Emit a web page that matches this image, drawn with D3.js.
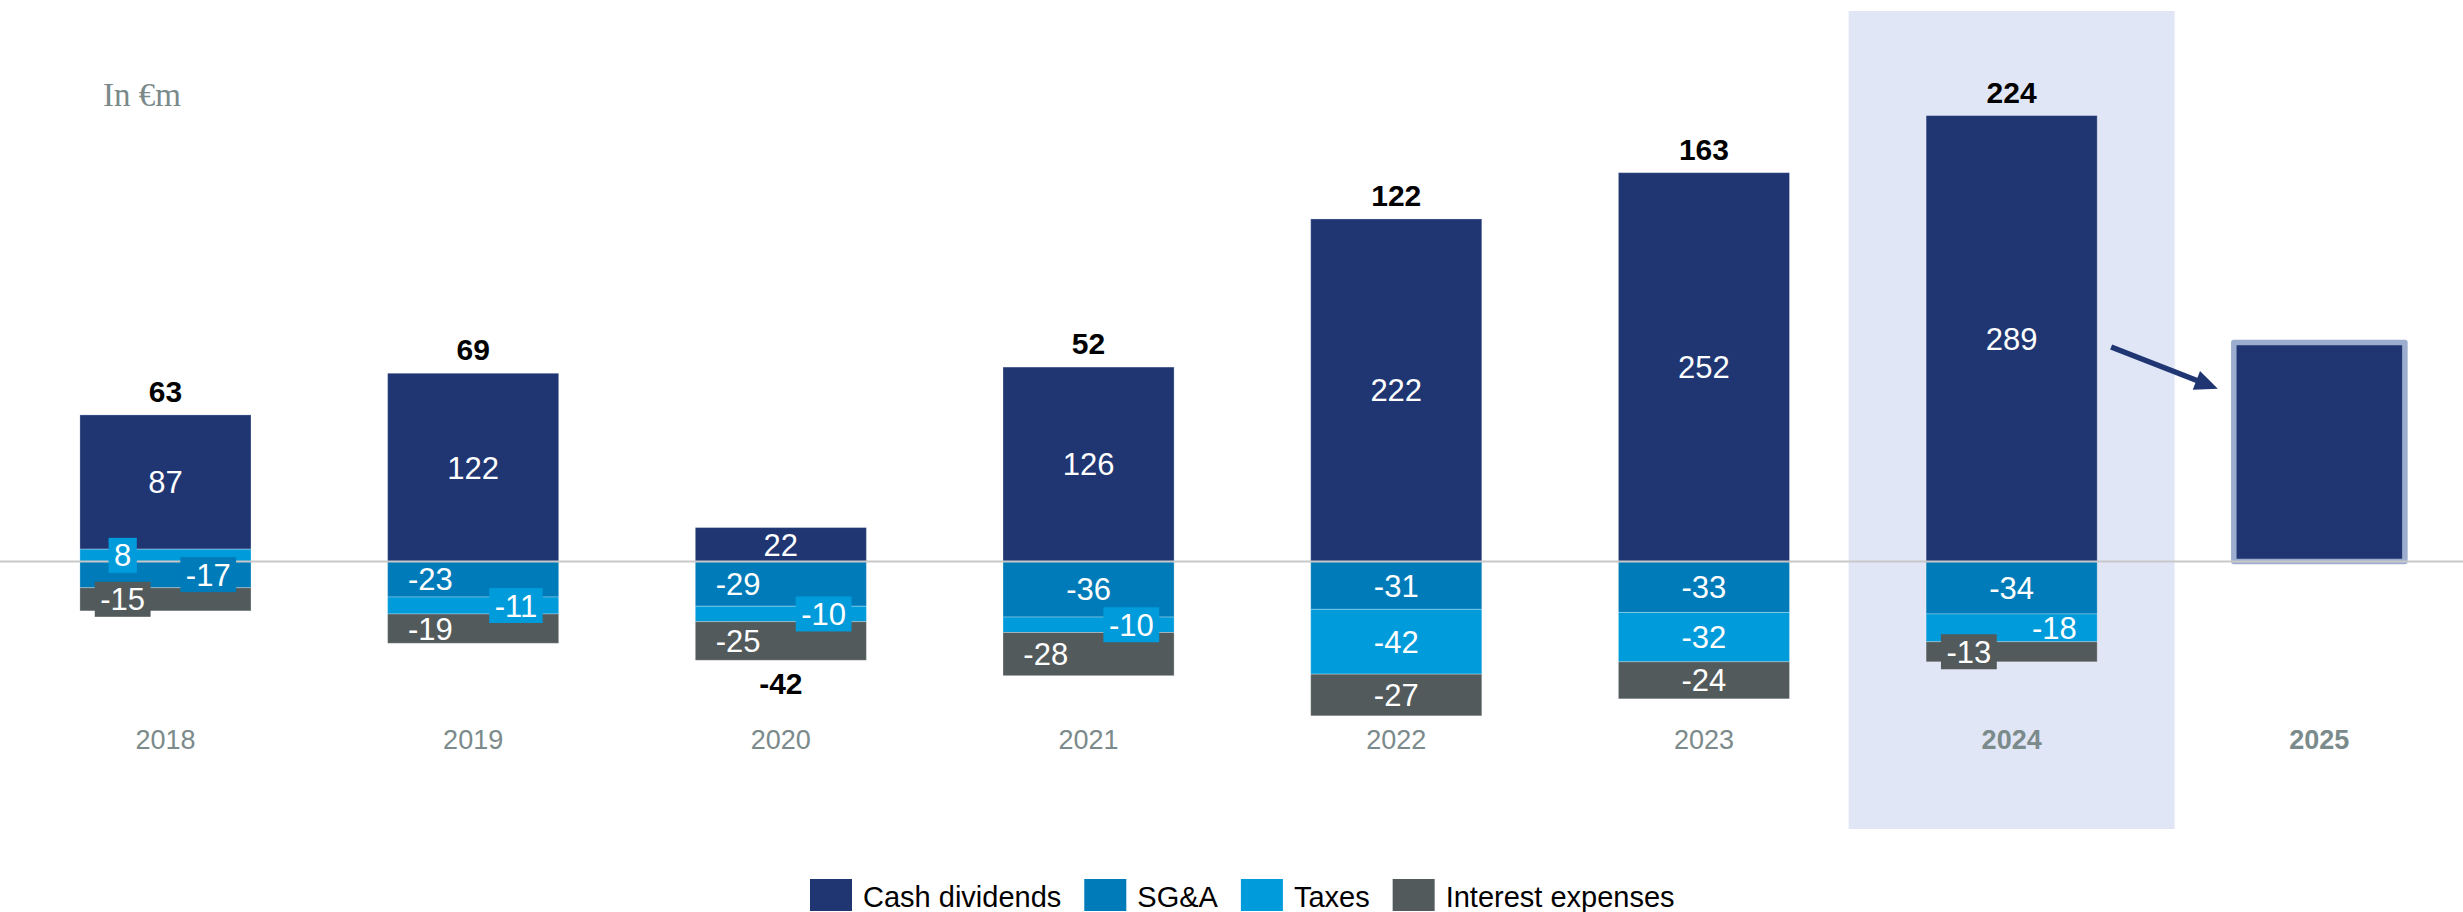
<!DOCTYPE html>
<html>
<head>
<meta charset="utf-8">
<script src="https://cdn.jsdelivr.net/npm/d3@7/dist/d3.min.js"></script>
<style>
  html, body { margin: 0; padding: 0; background: #ffffff; }
  svg { display: block; }
</style>
</head>
<body>
<svg id="chart" width="2463" height="912"></svg>
<script>
// Cash flow bridge per year, in € millions
const years = ["2018", "2019", "2020", "2021", "2022", "2023", "2024", "2025"];
const cashDividends = [87, 122, 22, 126, 222, 252, 289, 142];
const sga = [-17, -23, -29, -36, -31, -33, -34, 0];
const taxes = [8, -11, -10, -10, -42, -32, -18, 0];
const interestExpenses = [-15, -19, -25, -28, -27, -24, -13, 0];
const totals = [63, 69, -42, 52, 122, 163, 224, null];
const seriesNames = ["Cash dividends", "SG&A", "Taxes", "Interest expenses"];
const highlightYear = "2024";
const outlookYear = "2025";

const keys = ["cash", "sga", "taxes", "interest"];
const colors = { cash: "#1f3673", sga: "#007bb9", taxes: "#009bdb", interest: "#525a5b" };

// where a segment label sits inside its bar: l = left quarter, r = right quarter, default centre
const labelSide = {
  "2018": { taxes: "l", sga: "r", interest: "l" },
  "2019": { sga: "l", taxes: "r", interest: "l" },
  "2020": { sga: "l", taxes: "r", interest: "l" },
  "2021": { taxes: "r", interest: "l" },
  "2024": { taxes: "r", interest: "l" }
};

const rows = years.map((yr, i) => ({
  year: yr,
  cash: cashDividends[i],
  sga: sga[i],
  taxes: taxes[i],
  interest: interestExpenses[i],
  total: totals[i]
}));

const FONT = "'Liberation Sans', Arial, Helvetica, sans-serif";
const svg = d3.select("#chart");

const x = d3.scaleBand()
  .domain(years)
  .range([11.6, 2473.2])
  .paddingInner(0.444)
  .paddingOuter(0.222);

const y = d3.scaleLinear()
  .domain([-100, 300])
  .range([715.8, 98.6]);

const bw = x.bandwidth();

// stacking: SG&A and taxes sit next to the zero line, dividends above, interest at the bottom
const stack = d3.stack()
  .keys(keys)
  .order(() => [1, 2, 0, 3])
  .offset(d3.stackOffsetDiverging);
const stacked = stack(rows);

// highlighted year band
svg.append("rect")
  .attr("x", x(highlightYear) + bw / 2 - 163)
  .attr("y", 11)
  .attr("width", 326)
  .attr("height", 818)
  .attr("fill", "#e1e6f6");

// unit note
svg.append("text")
  .attr("x", 103)
  .attr("y", 106)
  .attr("font-family", "'Liberation Serif', 'Times New Roman', serif")
  .attr("font-size", 33)
  .attr("fill", "#7a8a8a")
  .text("In €m");

// stacked segments
const barsG = svg.append("g");
stacked.forEach(s => {
  barsG.selectAll(null)
    .data(s.filter(d => d.data.year !== outlookYear && d[1] !== d[0]))
    .join("rect")
    .attr("x", d => x(d.data.year))
    .attr("width", bw)
    .attr("y", d => y(Math.max(d[0], d[1])))
    .attr("height", d => Math.abs(y(d[0]) - y(d[1])))
    .attr("fill", colors[s.key])
    .attr("stroke", "rgba(255,255,255,0.28)")
    .attr("stroke-width", 1);
});

// outlook bar with its frame
const outlookRow = rows.find(r => r.year === outlookYear);
svg.append("rect")
  .attr("x", x(outlookYear))
  .attr("width", bw)
  .attr("y", y(outlookRow.cash))
  .attr("height", y(0) - y(outlookRow.cash))
  .attr("fill", colors.cash)
  .attr("stroke", "#9cadcf")
  .attr("stroke-width", 5.5)
  .attr("stroke-linejoin", "round");

// zero line
svg.append("line")
  .attr("x1", 0).attr("x2", 2463)
  .attr("y1", y(0)).attr("y2", y(0))
  .attr("stroke", "#c8c8c8")
  .attr("stroke-width", 2.2);

// arrow from the highlighted year to the outlook bar
(function drawArrow() {
  const x0 = x(highlightYear) + bw + 14, y0 = y(139);
  const x1 = x(outlookYear) - 16, y1 = y(112);
  const ang = Math.atan2(y1 - y0, x1 - x0);
  const headLen = 23, headHalf = 10;
  const bx = x1 - headLen * Math.cos(ang), by = y1 - headLen * Math.sin(ang);
  svg.append("line")
    .attr("x1", x0).attr("y1", y0)
    .attr("x2", bx + 2 * Math.cos(ang)).attr("y2", by + 2 * Math.sin(ang))
    .attr("stroke", colors.cash)
    .attr("stroke-width", 5.5);
  const px = -Math.sin(ang), py = Math.cos(ang);
  svg.append("path")
    .attr("d", `M${x1},${y1}L${bx + px * headHalf},${by + py * headHalf}L${bx - px * headHalf},${by - py * headHalf}Z`)
    .attr("fill", colors.cash);
})();

// segment value labels (small values get a box in the segment colour)
const labelG = svg.append("g")
  .attr("font-family", FONT)
  .attr("font-size", 31)
  .attr("fill", "#ffffff");

const segLabels = [];
stacked.forEach(s => {
  s.forEach(d => {
    const v = d.data[s.key];
    if (d.data.year === outlookYear || !v) return;
    const side = (labelSide[d.data.year] || {})[s.key];
    const cx = x(d.data.year) + bw / 2 + (side === "l" ? -bw / 4 : side === "r" ? bw / 4 : 0);
    const cy = (y(d[0]) + y(d[1])) / 2;
    segLabels.push({ key: s.key, v, cx, cy, boxed: Math.abs(v) <= 17 });
  });
});
// boxed labels last so their boxes stay on top
segLabels.sort((a, b) => a.boxed - b.boxed);
segLabels.forEach(l => {
  const g = labelG.append("g");
  const t = g.append("text")
    .attr("x", l.cx)
    .attr("y", l.cy)
    .attr("dy", "0.36em")
    .attr("text-anchor", "middle")
    .text(l.v);
  if (l.boxed) {
    const w = t.node().getComputedTextLength() + 11;
    g.insert("rect", "text")
      .attr("x", l.cx - w / 2)
      .attr("y", l.cy - 17.5)
      .attr("width", w)
      .attr("height", 35)
      .attr("fill", colors[l.key]);
  }
});

// net totals
const tops = new Map(), bottoms = new Map();
stacked.forEach(s => s.forEach(d => {
  const yr = d.data.year;
  tops.set(yr, Math.max(tops.get(yr) ?? 0, d[1], d[0]));
  bottoms.set(yr, Math.min(bottoms.get(yr) ?? 0, d[0], d[1]));
}));
svg.append("g")
  .attr("font-family", FONT)
  .attr("font-size", 30)
  .attr("font-weight", "bold")
  .attr("fill", "#000000")
  .attr("text-anchor", "middle")
  .selectAll("text")
  .data(rows.filter(r => r.total !== null))
  .join("text")
  .attr("x", d => x(d.year) + bw / 2)
  .attr("y", d => d.total >= 0 ? y(tops.get(d.year)) - 13 : y(bottoms.get(d.year)) + 33.5)
  .text(d => d.total);

// year axis
const axis = svg.append("g")
  .attr("transform", "translate(0,730)")
  .call(d3.axisBottom(x).tickSize(0).tickPadding(0));
axis.select(".domain").remove();
axis.selectAll("text")
  .attr("font-family", FONT)
  .attr("font-size", 27)
  .attr("fill", "#7b8a8b")
  .attr("font-weight", d => (d === highlightYear || d === outlookYear) ? "bold" : "normal");

// legend
const legend = svg.append("g")
  .attr("font-family", FONT)
  .attr("font-size", 29)
  .attr("fill", "#000000");
let lx = 810;
seriesNames.forEach((name, i) => {
  legend.append("rect")
    .attr("x", lx).attr("y", 879)
    .attr("width", 42).attr("height", 32)
    .attr("fill", colors[keys[i]]);
  const t = legend.append("text")
    .attr("x", lx + 53)
    .attr("y", 907)
    .text(name);
  lx += 53 + t.node().getComputedTextLength() + 23;
});
</script>
</body>
</html>
